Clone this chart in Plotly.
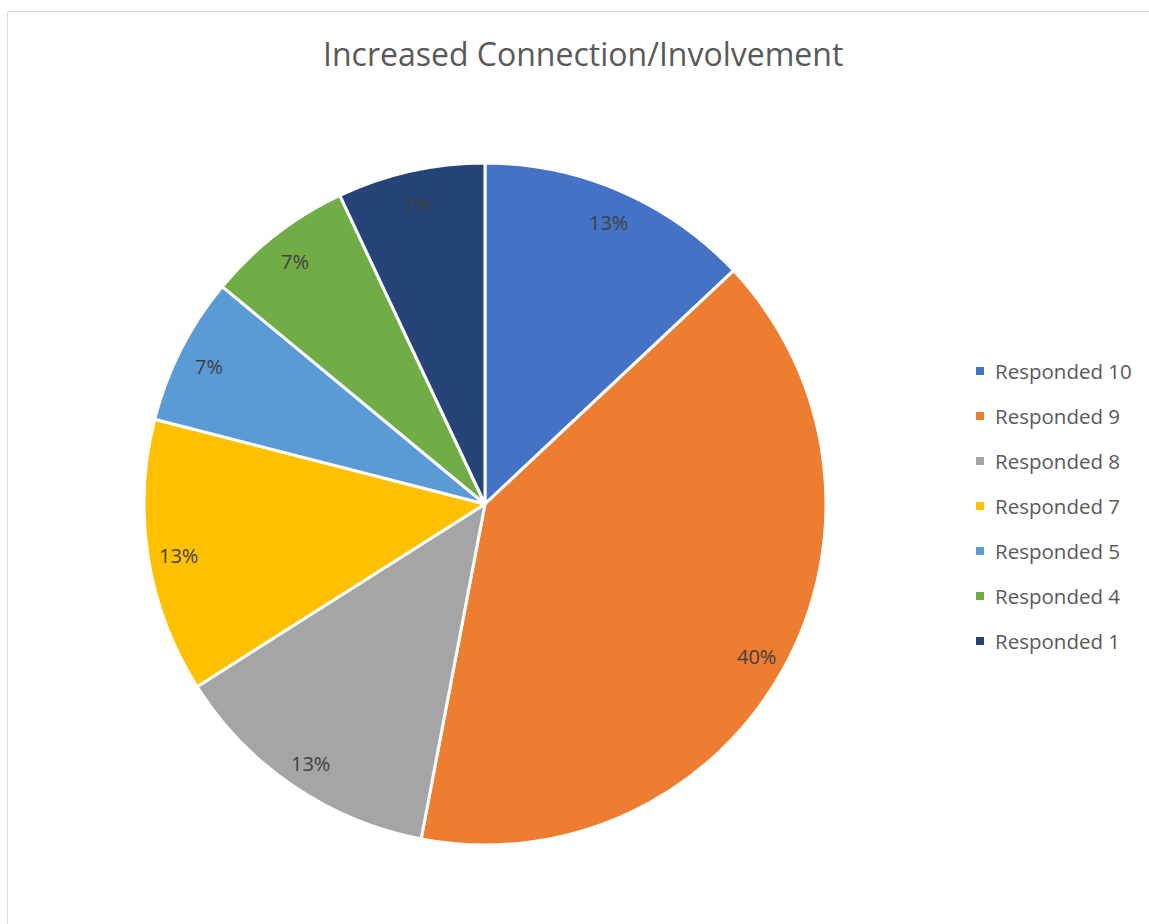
import math
import plotly.graph_objects as go

labels = ["Responded 10", "Responded 9", "Responded 8", "Responded 7",
          "Responded 5", "Responded 4", "Responded 1"]
percents = [13, 40, 13, 13, 7, 7, 7]
colors = ["#4472C4", "#ED7D31", "#A5A5A5", "#FFC000",
          "#5B9BD5", "#70AD47", "#264478"]
title_text = "Increased Connection/Involvement"

W, H = 1149, 924
cx, cy, r = 485, 504, 341  # pie centre and radius in pixels (y from top)

dom_x = [(cx - r) / W, (cx + r) / W]
dom_y = [(H - cy - r) / H, (H - cy + r) / H]

fig = go.Figure(go.Pie(
    labels=labels,
    values=percents,
    sort=False,
    direction="clockwise",
    rotation=0,
    marker=dict(colors=colors, line=dict(color="white", width=3)),
    textinfo="none",
    hoverinfo="label+percent",
    showlegend=False,
    domain=dict(x=dom_x, y=dom_y),
))

annotations = []
shapes = []

# percentage labels placed near the outer edge of each slice
total = sum(percents)
cum = 0
for v in percents:
    mid = (cum + v / 2) / total * 2 * math.pi
    cum += v
    px = cx + 0.91 * r * math.sin(mid)
    py = cy - 0.91 * r * math.cos(mid) + 3
    annotations.append(dict(
        x=px / W, y=1 - py / H, xref="paper", yref="paper",
        text=f"{v}%", showarrow=False,
        font=dict(family="Open Sans", size=20, color="#404040"),
        xanchor="center", yanchor="middle",
    ))

# legend on the right
leg_x, leg_y0, leg_dy = 980, 371, 45
for i, (lab, col) in enumerate(zip(labels, colors)):
    yy = leg_y0 + i * leg_dy
    shapes.append(dict(
        type="rect", xref="paper", yref="paper",
        x0=(leg_x - 4) / W, x1=(leg_x + 4) / W,
        y0=1 - (yy + 4) / H, y1=1 - (yy - 4) / H,
        fillcolor=col, line=dict(width=0),
    ))
    annotations.append(dict(
        x=(leg_x + 13) / W, y=1 - yy / H, xref="paper", yref="paper",
        text=lab, showarrow=False, xanchor="left", yanchor="middle",
        font=dict(family="Open Sans", size=20.5, color="#595959"),
    ))

# title
annotations.append(dict(
    x=583 / W, y=1 - 54 / H, xref="paper", yref="paper",
    text=title_text, showarrow=False, xanchor="center", yanchor="middle",
    font=dict(family="Open Sans", size=32, color="#595959"),
))

# chart area border
shapes.append(dict(
    type="rect", xref="paper", yref="paper",
    x0=7.5 / W, x1=1.05, y0=-0.05, y1=1 - 11.5 / H,
    line=dict(color="#D9D9D9", width=1), fillcolor="rgba(0,0,0,0)",
))

fig.update_layout(
    width=W, height=H,
    margin=dict(l=0, r=0, t=0, b=0),
    paper_bgcolor="white",
    plot_bgcolor="white",
    annotations=annotations,
    shapes=shapes,
)

fig.write_html("out.html")
